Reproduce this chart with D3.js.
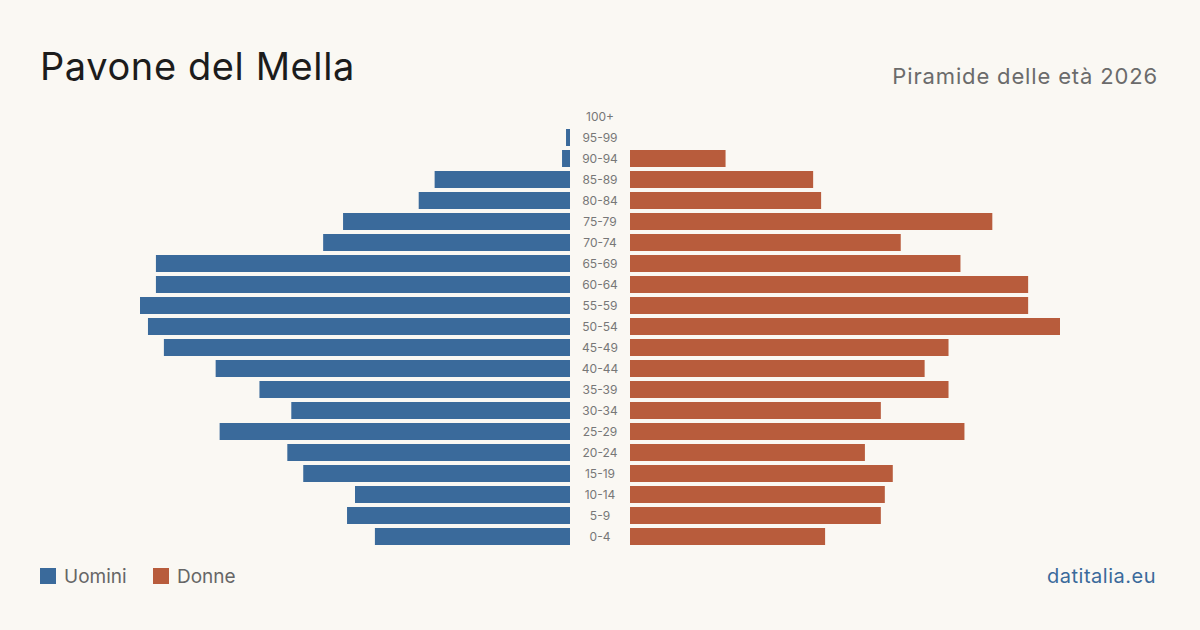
<!DOCTYPE html>
<html><head><meta charset="utf-8">
<script src="https://cdn.jsdelivr.net/npm/d3@7"></script>
<style>
html,body{margin:0;padding:0;background:#faf8f3;}
svg{display:block;font-family:Inter,"Noto Sans",sans-serif;}
</style></head>
<body><svg id="c" width="1200" height="630"></svg>
<script>
const ageGroups = ["100+","95-99","90-94","85-89","80-84","75-79","70-74","65-69","60-64","55-59","50-54","45-49","40-44","35-39","30-34","25-29","20-24","15-19","10-14","5-9","0-4"];
const males   = [0,1,2,34,38,57,62,104,104,108,106,102,89,78,70,88,71,67,54,56,49];
const females = [0,0,24,46,48,91,68,83,100,100,108,80,74,80,63,84,59,66,64,63,49];
const seriesNames = ["Uomini","Donne"];
const colors = ["#3a6a9b","#b85c3c"];

const svg = d3.select("#c");
svg.append("rect").attr("width",1200).attr("height",630).attr("fill","#faf8f3");

const maxV = 108;
const y = d3.scaleBand().domain(ageGroups).range([106,547]).paddingInner(4/21).paddingOuter(2/21);
const xL = d3.scaleLinear().domain([0,maxV]).range([570,140]);
const xR = d3.scaleLinear().domain([0,maxV]).range([630,1060]);

svg.append("g").selectAll("rect").data(ageGroups).join("rect")
  .attr("x",(d,i)=>xL(males[i])).attr("y",d=>y(d))
  .attr("width",(d,i)=>xL(0)-xL(males[i])).attr("height",y.bandwidth())
  .attr("fill",colors[0]);
svg.append("g").selectAll("rect").data(ageGroups).join("rect")
  .attr("x",xR(0)).attr("y",d=>y(d))
  .attr("width",(d,i)=>xR(females[i])-xR(0)).attr("height",y.bandwidth())
  .attr("fill",colors[1]);

svg.append("g").selectAll("text").data(ageGroups).join("text")
  .attr("x",600).attr("y",d=>y(d)+y.bandwidth()/2)
  .attr("dy","0.35em").attr("text-anchor","middle")
  .attr("font-size",12).attr("fill","#777").text(d=>d);

svg.append("text").attr("x",40).attr("y",80).attr("font-size",38).attr("letter-spacing",0.6).attr("fill","#1c1c1c").text("Pavone del Mella");
svg.append("text").attr("x",1158).attr("y",84).attr("text-anchor","end").attr("font-size",22).attr("letter-spacing",0.85).attr("fill","#6b6b6b").text("Piramide delle età 2026");

const legX = [40,153];
seriesNames.forEach((n,i)=>{
  svg.append("rect").attr("x",legX[i]).attr("y",568).attr("width",16).attr("height",16).attr("fill",colors[i]);
  svg.append("text").attr("x",legX[i]+24).attr("y",583).attr("font-size",19).attr("fill","#666").text(n);
});
svg.append("text").attr("x",1156).attr("y",583).attr("text-anchor","end").attr("font-size",20).attr("letter-spacing",0.5).attr("fill","#3a6a9b").text("datitalia.eu");
</script></body></html>
